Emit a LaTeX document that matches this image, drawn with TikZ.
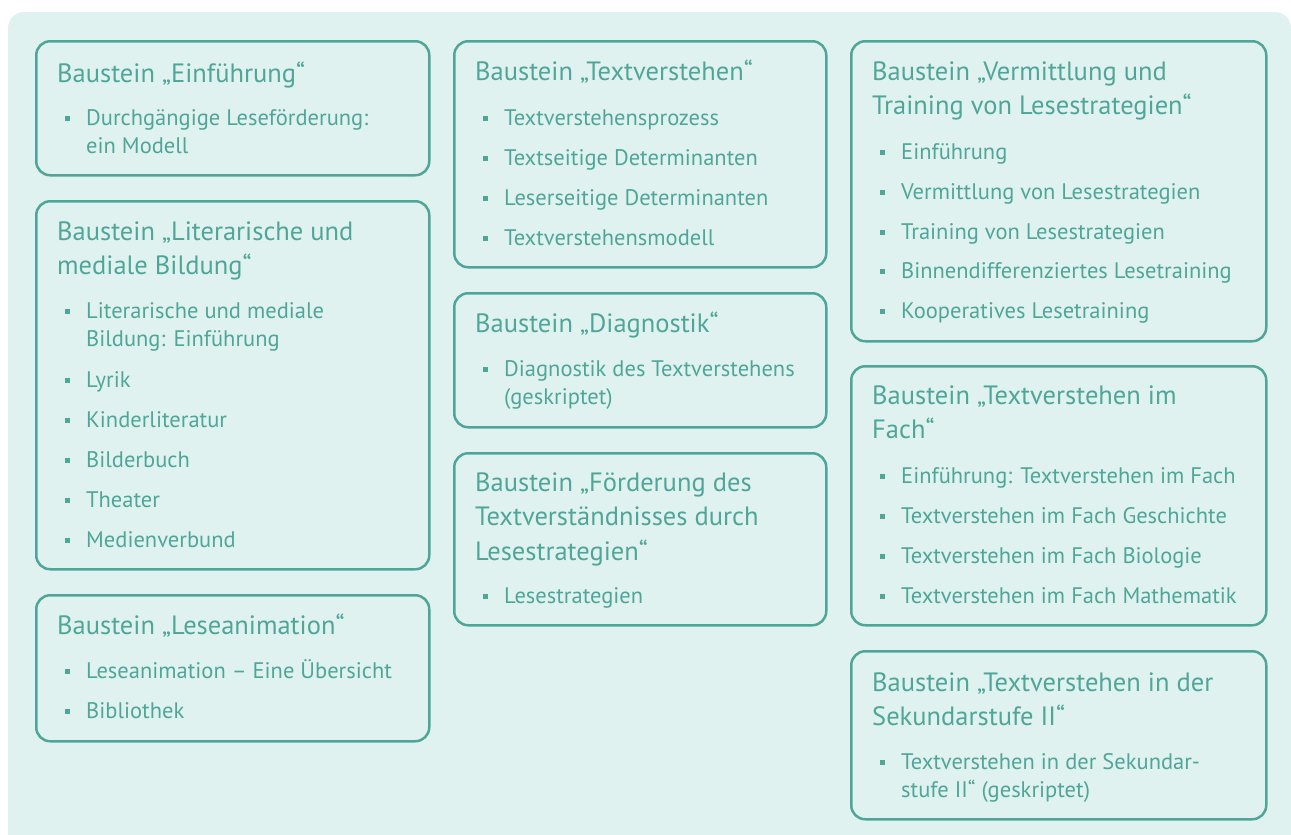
\documentclass[tikz,border=0pt]{standalone}
\usepackage{fontspec}
\setmainfont{PT Sans}
\usepackage{xcolor}
\definecolor{tuerkis}{RGB}{79,166,152}
\definecolor{hellgrund}{RGB}{224,242,240}

\begin{document}
\begin{tikzpicture}[x=1pt,y=-1pt,
    baustein/.style={draw=tuerkis, line width=2.5pt, rounded corners=14pt, anchor=north west, inner sep=0pt},
    titel/.style={anchor=base west, inner sep=0pt, align=left, text=tuerkis, font=\fontsize{26.5}{34.5}\selectfont},
    eintrag/.style={anchor=base west, inner sep=0pt, align=left, text=tuerkis, font=\fontsize{22.5}{28}\selectfont},
    punkt/.style={fill=tuerkis, minimum size=5pt, inner sep=0pt}]
      \useasboundingbox (0,0) rectangle (1291,835);
      \fill[hellgrund, rounded corners=16pt] (8,12) rectangle (1291,880);
      % linke Spalte (mehrzeilige Texte: base = letzte Zeile)
      \node[baustein, minimum width=393pt, minimum height=134pt] (einf) at (35,40) {};
      \node[titel] (einf-t) at (57,82) {Baustein „Einführung“};
      \node[punkt] (einf-p1) at (67.5,118) {};
      \node[eintrag] (einf-1) at (86,153) {Durchgängige Leseförderung:\\ein Modell};
      \node[baustein, minimum width=393pt, minimum height=368pt] (lit) at (35,200) {};
      \node[titel] (lit-t) at (57,274.5) {Baustein „Literarische und\\mediale Bildung“};
      \node[punkt] (lit-p1) at (67.5,311) {};
      \node[eintrag] (lit-1) at (86,346) {Literarische und mediale\\Bildung: Einführung};
      \node[punkt] (lit-p2) at (67.5,380) {};
      \node[eintrag] (lit-2) at (86,387) {Lyrik};
      \node[punkt] (lit-p3) at (67.5,420) {};
      \node[eintrag] (lit-3) at (86,427) {Kinderliteratur};
      \node[punkt] (lit-p4) at (67.5,460) {};
      \node[eintrag] (lit-4) at (86,467) {Bilderbuch};
      \node[punkt] (lit-p5) at (67.5,500) {};
      \node[eintrag] (lit-5) at (86,507) {Theater};
      \node[punkt] (lit-p6) at (67.5,540) {};
      \node[eintrag] (lit-6) at (86,547) {Medienverbund};
      \node[baustein, minimum width=393pt, minimum height=146pt] (anim) at (35,594) {};
      \node[titel] (anim-t) at (57,634) {Baustein „Leseanimation“};
      \node[punkt] (anim-p1) at (67.5,671) {};
      \node[eintrag] (anim-1) at (86,678) {Leseanimation – Eine Übersicht};
      \node[punkt] (anim-p2) at (67.5,711) {};
      \node[eintrag] (anim-2) at (86,718) {Bibliothek};
      % mittlere Spalte
      \node[baustein, minimum width=372pt, minimum height=226pt] (tv) at (453,40) {};
      \node[titel] (tv-t) at (475,80) {Baustein „Textverstehen“};
      \node[punkt] (tv-p1) at (485.5,118) {};
      \node[eintrag] (tv-1) at (504,125) {Textverstehensprozess};
      \node[punkt] (tv-p2) at (485.5,158) {};
      \node[eintrag] (tv-2) at (504,165) {Textseitige Determinanten};
      \node[punkt] (tv-p3) at (485.5,198) {};
      \node[eintrag] (tv-3) at (504,205) {Leserseitige Determinanten};
      \node[punkt] (tv-p4) at (485.5,238) {};
      \node[eintrag] (tv-4) at (504,245) {Textverstehensmodell};
      \node[baustein, minimum width=372pt, minimum height=134pt] (diag) at (453,292) {};
      \node[titel] (diag-t) at (475,332) {Baustein „Diagnostik“};
      \node[punkt] (diag-p1) at (485.5,369) {};
      \node[eintrag] (diag-1) at (504,404) {Diagnostik des Textverstehens\\(geskriptet)};
      \node[baustein, minimum width=372pt, minimum height=172pt] (foerd) at (453,452) {};
      \node[titel] (foerd-t) at (475,560) {Baustein „Förderung des\\Textverständnisses durch\\Lesestrategien“};
      \node[punkt] (foerd-p1) at (485.5,596) {};
      \node[eintrag] (foerd-1) at (504,603) {Lesestrategien};
      % rechte Spalte
      \node[baustein, minimum width=415pt, minimum height=300pt] (verm) at (850,40) {};
      \node[titel] (verm-t) at (872,114.5) {Baustein „Vermittlung und\\Training von Lesestrategien“};
      \node[punkt] (verm-p1) at (882.5,152) {};
      \node[eintrag] (verm-1) at (901,159) {Einführung};
      \node[punkt] (verm-p2) at (882.5,192) {};
      \node[eintrag] (verm-2) at (901,199) {Vermittlung von Lesestrategien};
      \node[punkt] (verm-p3) at (882.5,232) {};
      \node[eintrag] (verm-3) at (901,239) {Training von Lesestrategien};
      \node[punkt] (verm-p4) at (882.5,271) {};
      \node[eintrag] (verm-4) at (901,278) {Binnendifferenziertes Lesetraining};
      \node[punkt] (verm-p5) at (882.5,311) {};
      \node[eintrag] (verm-5) at (901,318) {Kooperatives Lesetraining};
      \node[baustein, minimum width=415pt, minimum height=259pt] (fach) at (850,365) {};
      \node[titel] (fach-t) at (872,438.5) {Baustein „Textverstehen im\\Fach“};
      \node[punkt] (fach-p1) at (882.5,476) {};
      \node[eintrag] (fach-1) at (901,483) {Einführung: Textverstehen im Fach};
      \node[punkt] (fach-p2) at (882.5,516) {};
      \node[eintrag] (fach-2) at (901,523) {Textverstehen im Fach Geschichte};
      \node[punkt] (fach-p3) at (882.5,556) {};
      \node[eintrag] (fach-3) at (901,563) {Textverstehen im Fach Biologie};
      \node[punkt] (fach-p4) at (882.5,596) {};
      \node[eintrag] (fach-4) at (901,603) {Textverstehen im Fach Mathematik};
      \node[baustein, minimum width=415pt, minimum height=168pt] (sek) at (850,650) {};
      \node[titel] (sek-t) at (872,725.5) {Baustein „Textverstehen in der\\Sekundarstufe II“};
      \node[punkt] (sek-p1) at (882.5,762) {};
      \node[eintrag] (sek-1) at (901,797) {Textverstehen in der Sekundar-\\stufe II“ (geskriptet)};
\end{tikzpicture}
\end{document}
